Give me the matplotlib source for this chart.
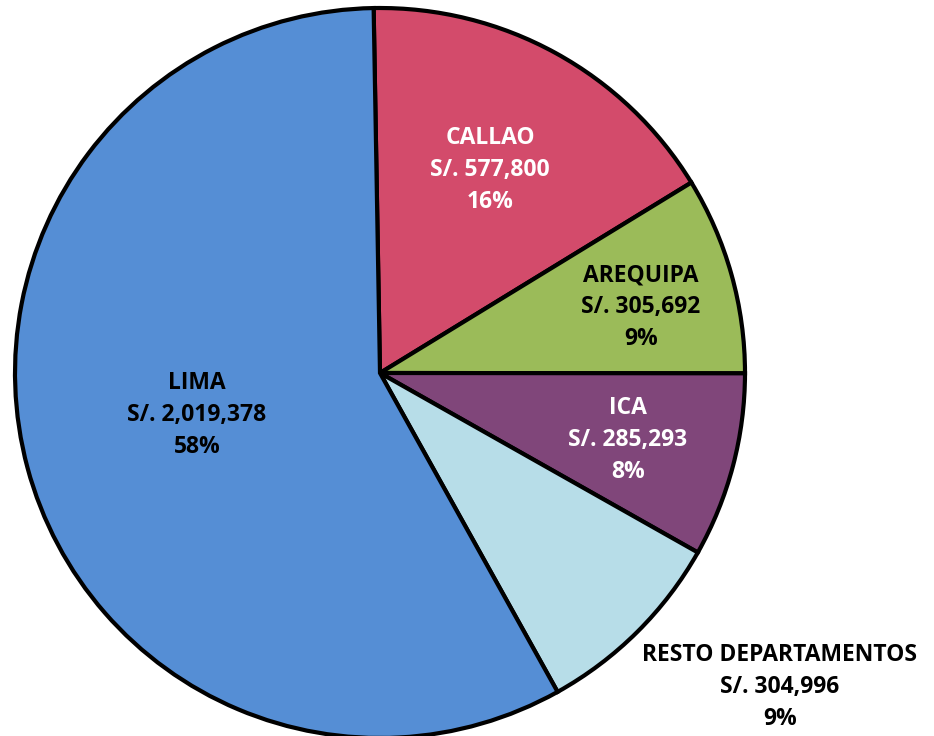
import matplotlib
matplotlib.use("Agg")
import matplotlib.pyplot as plt

categories = ["CALLAO", "AREQUIPA", "ICA", "RESTO DEPARTAMENTOS", "LIMA"]
values = [577800, 305692, 285293, 304996, 2019378]
percent_labels = ["16%", "9%", "8%", "9%", "58%"]
colors = ["#D34B6B", "#9BBB59", "#80467A", "#B7DDE8", "#558ED5"]
text_colors = ["white", "black", "white", "black", "black"]
label_pos = [(490, 170), (641, 307), (628, 440), (780, 687), (197, 415)]

W, H = 934, 736
fig = plt.figure(figsize=(W / 100, H / 100), dpi=100)
ax = fig.add_axes([0, 0, 1, 1])
cx, cy, r = 380, 373, 365
ax.pie(values, colors=colors, startangle=91, counterclock=False,
       center=(cx, H - cy), radius=r,
       wedgeprops=dict(edgecolor="black", linewidth=3, joinstyle="miter"))
ax.set_xlim(0, W)
ax.set_ylim(0, H)
ax.set_aspect("equal")
ax.axis("off")

for cat, v, p, tc, (x, y) in zip(categories, values, percent_labels, text_colors, label_pos):
    ax.text(x, H - y, f"{cat}\nS/. {v:,}\n{p}", ha="center", va="center",
            color=tc, fontsize=16.5, fontweight="bold", family="Open Sans",
            linespacing=1.42)

fig.savefig("out.png", dpi=100)
